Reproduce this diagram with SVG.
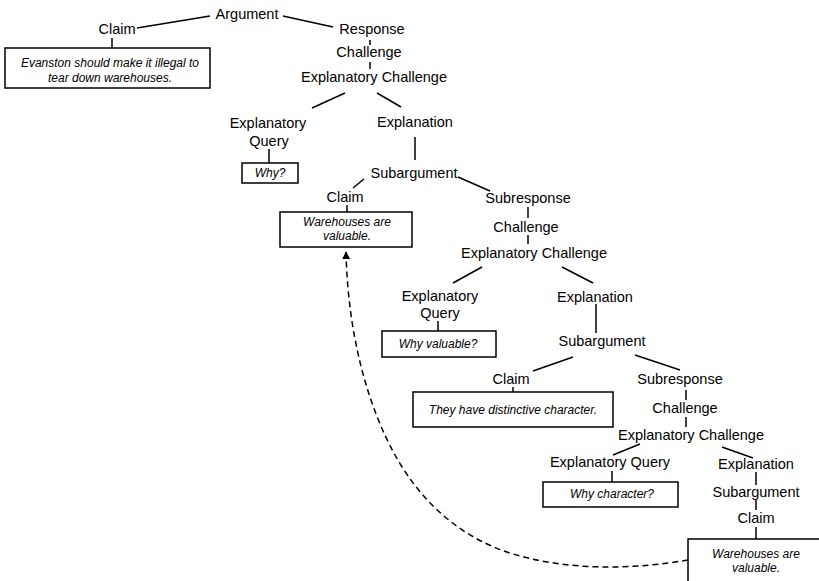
<svg xmlns="http://www.w3.org/2000/svg" width="819" height="581" viewBox="0 0 819 581">
<style>
.l{font-family:"Liberation Sans",Arial,sans-serif;font-size:14.5px;fill:#000;text-anchor:middle}
.b{font-family:"Liberation Sans",Arial,sans-serif;font-size:12px;font-style:italic;fill:#000;text-anchor:middle}
.box{fill:#fff;stroke:#000;stroke-width:1.5}
.c line{stroke:#000;stroke-width:1.5}
.d{fill:none;stroke:#000;stroke-width:1.5;stroke-dasharray:6 4}
</style>
<defs>
<marker id="ah" viewBox="0 0 10 10" refX="9" refY="5" markerWidth="8" markerHeight="8" markerUnits="userSpaceOnUse" orient="auto">
<path d="M0,0 L10,5 L0,10 z" fill="#000"/>
</marker>
</defs>
<rect width="819" height="581" fill="#fff"/>
<g class="c" id="connectors">
<line x1="137" y1="28" x2="210" y2="16"/>
<line x1="283" y1="16" x2="333" y2="27"/>
<line x1="112" y1="38" x2="112" y2="48"/>
<line x1="370" y1="40" x2="370" y2="45"/>
<line x1="370" y1="62" x2="370" y2="69"/>
<line x1="345" y1="93" x2="312" y2="108"/>
<line x1="377" y1="93" x2="401" y2="107"/>
<line x1="269" y1="149" x2="269" y2="163"/>
<line x1="415" y1="137" x2="415" y2="160"/>
<line x1="364" y1="179" x2="353" y2="188"/>
<line x1="458" y1="177" x2="490" y2="191"/>
<line x1="347" y1="205" x2="347" y2="212"/>
<line x1="528" y1="207" x2="528" y2="218"/>
<line x1="528" y1="235" x2="528" y2="244"/>
<line x1="482" y1="267" x2="453" y2="283"/>
<line x1="562" y1="267" x2="593" y2="283"/>
<line x1="438" y1="321" x2="438" y2="331"/>
<line x1="596" y1="304" x2="596" y2="333"/>
<line x1="573" y1="357" x2="533" y2="371"/>
<line x1="635" y1="355" x2="680" y2="370"/>
<line x1="513" y1="387" x2="513" y2="392"/>
<line x1="686" y1="390" x2="686" y2="400"/>
<line x1="686" y1="417" x2="686" y2="427"/>
<line x1="640" y1="444" x2="613" y2="455"/>
<line x1="722" y1="447" x2="753" y2="458"/>
<line x1="612" y1="471" x2="612" y2="482"/>
<line x1="756" y1="472" x2="756" y2="485"/>
<line x1="756" y1="500" x2="756" y2="510"/>
<line x1="756" y1="527" x2="756" y2="539"/>
<path class="d" d="M688,560 C640,568 580,572 520,556 C460,540 420,500 395,455 C370,410 348,340 346,252" marker-end="url(#ah)"/>
</g>
<g id="argument"><text class="l" x="247" y="19">Argument</text></g>
<g id="claim1"><text class="l" x="117" y="34">Claim</text></g>
<g id="claim1-box"><rect class="box" x="5" y="48" width="205" height="40"/><text class="b" x="110" y="67">Evanston should make it illegal to</text><text class="b" x="110" y="82">tear down warehouses.</text></g>
<g id="response"><text class="l" x="372" y="34">Response</text></g>
<g id="challenge1"><text class="l" x="369" y="57">Challenge</text></g>
<g id="expl-challenge1"><text class="l" x="374" y="82">Explanatory Challenge</text></g>
<g id="expl-query1"><text class="l" x="268" y="128">Explanatory</text><text class="l" x="269" y="146">Query</text></g>
<g id="why1"><rect class="box" x="242" y="163" width="56" height="20"/><text class="b" x="270" y="177">Why?</text></g>
<g id="explanation1"><text class="l" x="415" y="127">Explanation</text></g>
<g id="subargument1"><text class="l" x="414" y="178">Subargument</text></g>
<g id="claim2"><text class="l" x="345" y="202">Claim</text></g>
<g id="claim2-box"><rect class="box" x="280" y="212" width="132" height="35"/><text class="b" x="347" y="226">Warehouses are</text><text class="b" x="347" y="240">valuable.</text></g>
<g id="subresponse1"><text class="l" x="528" y="203">Subresponse</text></g>
<g id="challenge2"><text class="l" x="526" y="232">Challenge</text></g>
<g id="expl-challenge2"><text class="l" x="534" y="258">Explanatory Challenge</text></g>
<g id="expl-query2"><text class="l" x="440" y="301">Explanatory</text><text class="l" x="440" y="318">Query</text></g>
<g id="why2"><rect class="box" x="382" y="331" width="114" height="26"/><text class="b" x="438" y="348">Why valuable?</text></g>
<g id="explanation2"><text class="l" x="595" y="302">Explanation</text></g>
<g id="subargument2"><text class="l" x="602" y="346">Subargument</text></g>
<g id="claim3"><text class="l" x="511" y="384">Claim</text></g>
<g id="claim3-box"><rect class="box" x="413" y="392" width="200" height="35"/><text class="b" x="513" y="414">They have distinctive character.</text></g>
<g id="subresponse2"><text class="l" x="680" y="384">Subresponse</text></g>
<g id="challenge3"><text class="l" x="685" y="413">Challenge</text></g>
<g id="expl-challenge3"><text class="l" x="691" y="440">Explanatory Challenge</text></g>
<g id="expl-query3"><text class="l" x="610" y="467">Explanatory Query</text></g>
<g id="why3"><rect class="box" x="543" y="482" width="135" height="25"/><text class="b" x="612" y="498">Why character?</text></g>
<g id="explanation3"><text class="l" x="756" y="469">Explanation</text></g>
<g id="subargument3"><text class="l" x="756" y="497">Subargument</text></g>
<g id="claim4"><text class="l" x="756" y="523">Claim</text></g>
<g id="claim4-box"><rect class="box" x="688" y="539" width="138" height="50"/><text class="b" x="756" y="558">Warehouses are</text><text class="b" x="756" y="572">valuable.</text></g>
</svg>
